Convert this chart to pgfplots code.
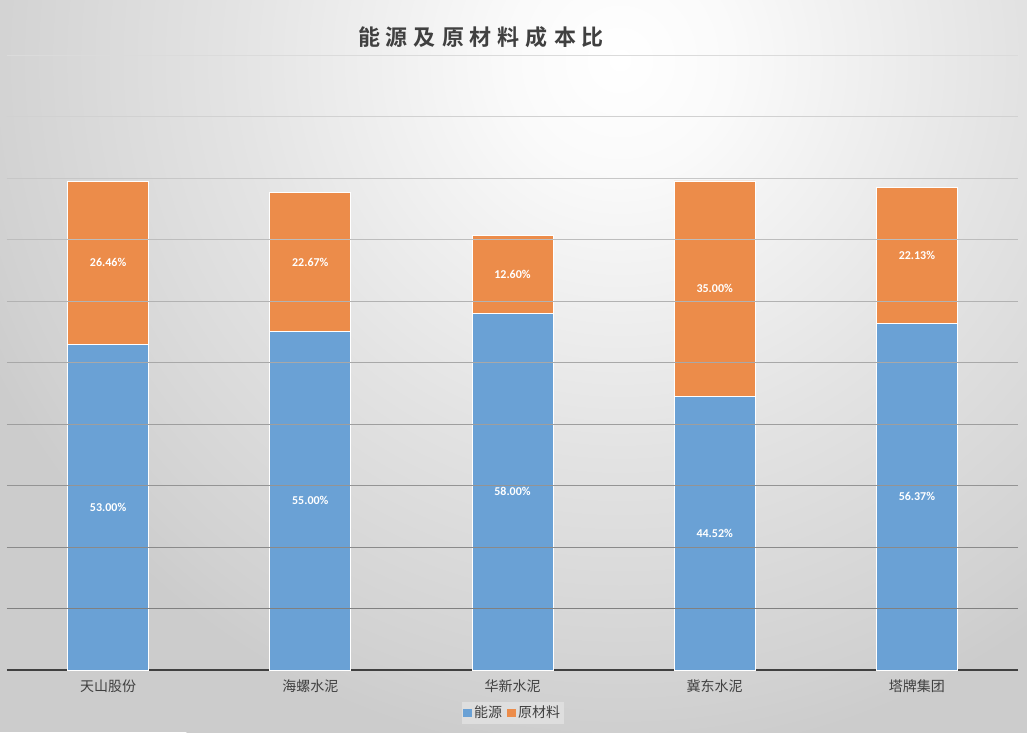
\documentclass[border=0pt]{standalone}
\usepackage{pgfplots}
\pgfplotsset{compat=1.18}
\usepackage{fontspec}
\setmainfont{Noto Sans CJK SC}
\newfontfamily\cjkbold[BoldFont={Noto Sans CJK SC Bold}]{Noto Sans CJK SC}
\newfontfamily\carlito{Carlito}
\definecolor{bluebar}{HTML}{6AA1D5}
\definecolor{orangebar}{HTML}{EC8C4A}
\definecolor{txt}{HTML}{404040}
\definecolor{legbg}{HTML}{DEDEDE}
\pgfdeclareradialshading{bg}{\pgfpoint{0bp}{0bp}}{color(0bp)=(white); color(3.5bp)=(white!98!black); color(12.25bp)=(white!89!black); color(20.1bp)=(white!82!black); color(21.9bp)=(white!80!black); color(50bp)=(white!80!black)}
\begin{document}
\begin{tikzpicture}
\useasboundingbox (0,0) rectangle (770.25pt,549pt);
\fill[white!80!black] (0,0) rectangle (770.25pt,549pt);
\begin{scope}
\clip (0,0) rectangle (770.25pt,549pt);
\shade[shading=bg] (465pt,504pt) circle (600pt);
\end{scope}
\begin{axis}[
  at={(5.25pt,46.5pt)}, anchor=south west,
  scale only axis, width=758.25pt, height=461.25pt,
  xmin=-0.5, xmax=4.5, ymin=0, ymax=100,
  ybar stacked, bar width=60.75pt,
  axis line style={draw=none},
  ytick=\empty,
  xtick={0,1,2,3,4},
  xticklabels={天山股份,海螺水泥,华新水泥,冀东水泥,塔牌集团},
  xtick style={draw=none},
  xticklabel style={font=\fontsize{10.5pt}{12pt}\selectfont, text=txt, yshift=-3.5pt},
  legend style={at={(0.5005,-0.07)}, anchor=center, legend columns=2, draw=none, fill=legbg,
    font=\fontsize{10.5pt}{12pt}\selectfont, text=txt, inner sep=1pt,
    /tikz/every even column/.append style={column sep=2pt}},
  clip=false,
]
\draw[black!14] (axis cs:-0.5,100) -- (axis cs:4.5,100);
\draw[black!18] (axis cs:-0.5,90) -- (axis cs:4.5,90);
\draw[black!22] (axis cs:-0.5,80) -- (axis cs:4.5,80);
\draw[black!26] (axis cs:-0.5,70) -- (axis cs:4.5,70);
\draw[black!30] (axis cs:-0.5,60) -- (axis cs:4.5,60);
\draw[black!34] (axis cs:-0.5,50) -- (axis cs:4.5,50);
\draw[black!38] (axis cs:-0.5,40) -- (axis cs:4.5,40);
\draw[black!42] (axis cs:-0.5,30) -- (axis cs:4.5,30);
\draw[black!46] (axis cs:-0.5,20) -- (axis cs:4.5,20);
\draw[black!50] (axis cs:-0.5,10) -- (axis cs:4.5,10);
\addplot[fill=bluebar, draw=white, line width=0.6pt,
  legend image code/.code={\fill[bluebar] (0pt,-2.7pt) rectangle (5.4pt,2.7pt);}]
  coordinates {(0,53.00) (1,55.00) (2,58.00) (3,44.52) (4,56.37)};
\addlegendentry{能源}
\addplot[fill=orangebar, draw=white, line width=0.6pt,
  legend image code/.code={\fill[orangebar] (0pt,-2.7pt) rectangle (5.4pt,2.7pt);}]
  coordinates {(0,26.46) (1,22.67) (2,12.60) (3,35.00) (4,22.13)};
\addlegendentry{原材料}
\draw[line width=1.5pt, txt] (axis cs:-0.5,0) -- (axis cs:4.5,0);
\end{axis}
\begin{axis}[
  at={(5.25pt,46.5pt)}, anchor=south west,
  scale only axis, width=758.25pt, height=461.25pt,
  xmin=-0.5, xmax=4.5, ymin=0, ymax=100,
  hide axis, clip=false,
]
\addplot[only marks, mark=none, point meta=explicit,
  nodes near coords={\pgfmathprintnumber[fixed,fixed zerofill,precision=2,assume math mode=true]{\pgfplotspointmeta}\%},
  every node near coord/.style={anchor=center, font=\carlito\bfseries\fontsize{9pt}{10pt}\selectfont, text=white}]
  table[x=x, y=y, meta=v] {
x y v
0 26.5 53.00
1 27.5 55.00
2 29.0 58.00
3 22.26 44.52
4 28.185 56.37
0 66.23 26.46
1 66.335 22.67
2 64.3 12.60
3 62.02 35.00
4 67.435 22.13
};
\end{axis}
\node[text=txt, font=\cjkbold\bfseries\fontsize{16.5pt}{18pt}\selectfont] at (360.75pt,521.25pt)
  {能\hspace{4.5pt}源\hspace{4.5pt}及\hspace{4.5pt}原\hspace{4.5pt}材\hspace{4.5pt}料\hspace{4.5pt}成\hspace{4.5pt}本\hspace{4.5pt}比};
\end{tikzpicture}
\end{document}
